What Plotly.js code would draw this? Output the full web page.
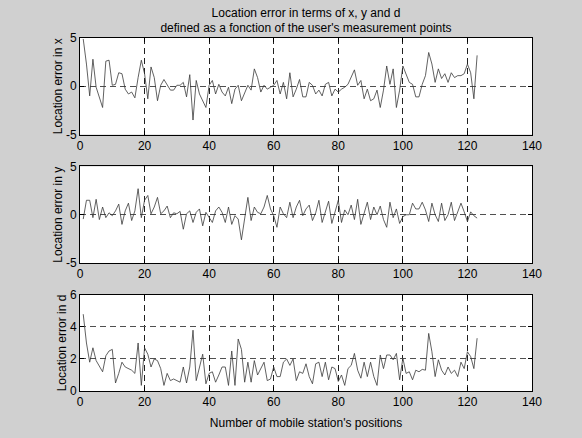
<!DOCTYPE html>
<html>
<head>
<meta charset="utf-8">
<script src="https://cdn.plot.ly/plotly-3.0.1.min.js"></script>
<style>
  html, body { margin:0; padding:0; }
  body {
    width:582px; height:438px; overflow:hidden;
    background-color:#d0d0d0;
  }
  #chart { width:582px; height:438px; }
</style>
</head>
<body>
<div id="chart"></div>
<script>
// ---- data ----
const errX = [4.9, 2.3, -1.0, 2.8, -0.1, -1.1, -2.2, 2.6, 2.7, 0.1,
  0.2, 1.4, 1.3, -0.3, -0.8, -0.6, -1.2, 0.9, 2.7, 1.3,
  -1.3, 2.0, 0.9, -1.5, 0.1, 0.7, 0.2, -0.4, -0.4, 0.1,
  0.1, 0.4, -1.1, 1.2, -3.5, 0.6, -0.8, -1.6, -2.2, 0.1,
  0.6, -0.8, 0.2, -0.6, -1.0, -0.1, -1.8, -0.3, 0.1, -1.5,
  -0.6, 0.1, -0.4, 1.8, 0.9, -0.6, 0.1, -0.3, -0.1, 0.1,
  0.6, -0.8, 0.4, -1.3, 1.4, -1.1, -0.3,
  0.7, -1.1, -1.1, 0.4, 0.1, -0.8, -0.4, -1.0, 0.2, 0.4,
  -1.0, -0.3, -0.6, -0.3, -0.1, 0.2, 0.9, 1.7, 0.1, 0.6,
  -1.3, -0.3, -1.5, -1.3, -0.4, -2.2, -0.4, 2.1, 0.2, 1.8,
  -2.2, -0.4, 2.1, 1.3, 0.4, 0.2, -1.1, -1.1, 0.2, 1.1,
  3.5, 2.3, 0.4, 1.8, 0.8, 1.3, 0.4, 1.4, 0.9, 1.1,
  1.1, 1.3, 2.3, 1.4, -1.3, 3.2];

const errY = [-0.45, 1.5, 1.5, -0.3, 1.6, -0.5, 0.8, -0.3, 0.2, -0.1,
  0.4, 1.1, -1.0, 0.4, 1.2, -0.6, 0.4, 2.7, -0.3, 1.5,
  2.0, 0.1, 0.8, 1.8, 0.1, 0.4, 0.9, -0.3, 0.2, 0.1,
  0.35, -1.5, 0.1, 0.4, -0.8, 0.25, 0.6, -1.15, 0.25, -0.3,
  -0.8, 0.4, 0.8, 0.25, -0.8, 0.8, -1.0, -0.1, -0.45, -2.6,
  -0.45, 1.8, -0.6, 0.8, 0.25, 0.1, 0.8, 2.0, 0.6, -0.1,
  -1.3, 0.8, 0.1, -0.3, 1.3, -0.3, 0.8, 1.5, -0.1, 0.6, 1.0,
  -0.6, 0.2, 1.5, -0.8, 0.3, 1.4, -0.9, 0.2, 1.5, -0.8,
  0.5, 0.0, 1.0, -0.5, 1.6, -1.0, 0.2, 1.3, -0.5, 0.8,
  0.0, 0.9, -0.5, -1.3, 1.3, -0.3, 0.6, -0.9, -0.2, 0.0,
  0.0, 1.2, 0.6, 0.6, 1.3, 0.5, -0.7, 1.2, 0.0, -0.7,
  1.2, -0.6, 0.0, 1.3, -0.6, 0.2, 1.2, 0.3, -0.7, 0.3,
  -0.1, -0.35];

const errD = [4.8, 3.0, 1.8, 2.7, 1.9, 1.5, 1.2, 2.2, 2.5, 2.6,
  0.5, 1.1, 1.8, 1.5, 1.4, 1.3, 1.1, 3.0, 0.35, 2.7,
  2.3, 1.5, 2.0, 1.9, 1.4, 0.35, 1.1, 0.65, 0.75, 0.65,
  0.55, 1.5, 0.5, 1.5, 3.8, 0.65, 1.4, 2.3, 0.45, 1.1,
  1.2, 0.55, 1.0, 1.5, 1.5, 0.35, 2.5, 0.35, 3.25, 2.6,
  0.55, 1.8, 0.55, 1.9, 1.0, 1.4, 1.8, 0.65, 0.75, 1.5,
  0.9, 0.9, 1.8, 2.0, 1.6, 2.0, 0.65,
  1.2, 1.1, 1.7, 0.9, 0.45, 1.7, 1.8, 0.9, 1.8, 0.7,
  1.5, 1.4, 0.6, 1.0, 0.35, 1.4, 1.6, 2.35, 1.3, 0.8,
  1.8, 0.9, 1.8, 0.9, 0.35, 2.25, 1.4, 2.25, 2.25, 1.95,
  2.35, 0.7, 2.05, 1.1, 1.2, 0.7, 1.3, 1.2, 1.35, 1.3,
  3.6, 2.45, 0.9, 1.95, 1.3, 1.0, 1.5, 1.1, 1.3, 0.9,
  1.8, 1.4, 2.45, 2.15, 1.4, 3.3];

const positions = errX.map((_, i) => i + 1);

const xTickVals = [0, 20, 40, 60, 80, 100, 120, 140];
const xTickText = ['0', '20', '40', '60', '80', '100', '120', '140'];
const yTickValsXY = [-5, 0, 5];
const yTickTextXY = ['-5', '0', '5'];
const yTickValsD = [0, 2, 4, 6];
const yTickTextD = ['0', '2', '4', '6'];

const titleLines = ['Location error in terms of x, y and d',
                    "defined as a fonction of the user's measurement points"];
const yTitles = ['Location error in x', 'Location error in y', 'Location error in d'];
const xTitle = "Number of mobile station's positions";

// ---- drawing ----
const font = {family: 'Liberation Sans, Arial, Helvetica, sans-serif', size: 12, color: '#000'};
const lineStyle = {color: '#3a3a3a', width: 0.8};

const traces = [
  {x: positions, y: errX, xaxis: 'x', yaxis: 'y', mode: 'lines', line: lineStyle, hoverinfo: 'skip'},
  {x: positions, y: errY, xaxis: 'x2', yaxis: 'y2', mode: 'lines', line: lineStyle, hoverinfo: 'skip'},
  {x: positions, y: errD, xaxis: 'x3', yaxis: 'y3', mode: 'lines', line: lineStyle, hoverinfo: 'skip'}
];

function xAxis(anchor, withTitle) {
  const a = {
    anchor: anchor, range: [0, 140], tickvals: xTickVals, ticktext: xTickText,
    ticks: 'inside', ticklen: 4, tickcolor: '#000', tickwidth: 1,
    showline: true, linecolor: '#000', linewidth: 1, mirror: 'ticks',
    showgrid: true, gridcolor: '#202020', gridwidth: 1, griddash: '6px,4px',
    zeroline: false, tickfont: font, fixedrange: true
  };
  if (withTitle) a.title = {text: xTitle, font: font, standoff: 10};
  return a;
}
function yAxis(anchor, domain, range, vals, text, title) {
  return {
    anchor: anchor, domain: domain, range: range, tickvals: vals, ticktext: text,
    ticks: 'inside', ticklen: 4, tickcolor: '#000', tickwidth: 1,
    showline: true, linecolor: '#000', linewidth: 1, mirror: 'ticks',
    showgrid: true, gridcolor: '#505050', gridwidth: 1, griddash: '6px,4px',
    zeroline: false, tickfont: font, fixedrange: true,
    title: {text: title, font: font, standoff: 0}
  };
}

const layout = {
  width: 582, height: 438,
  margin: {l: 80, r: 50, t: 38, b: 47, pad: 0},
  paper_bgcolor: 'rgba(0,0,0,0)', plot_bgcolor: '#ffffff',
  showlegend: false, font: font,
  title: {text: titleLines.join('<br>'), font: font, x: 0.5, xref: 'paper',
          y: 0.962, yref: 'container', yanchor: 'top'},
  xaxis: xAxis('y', false),
  xaxis2: xAxis('y2', false),
  xaxis3: xAxis('y3', true),
  yaxis: yAxis('x', [0.7266, 1], [-5, 5], yTickValsXY, yTickTextXY, yTitles[0]),
  yaxis2: yAxis('x2', [0.3626, 0.636], [-5, 5], yTickValsXY, yTickTextXY, yTitles[1]),
  yaxis3: yAxis('x3', [0, 0.272], [0, 6], yTickValsD, yTickTextD, yTitles[2])
};

Plotly.newPlot('chart', traces, layout, {displayModeBar: false, staticPlot: true});
</script>
</body>
</html>
